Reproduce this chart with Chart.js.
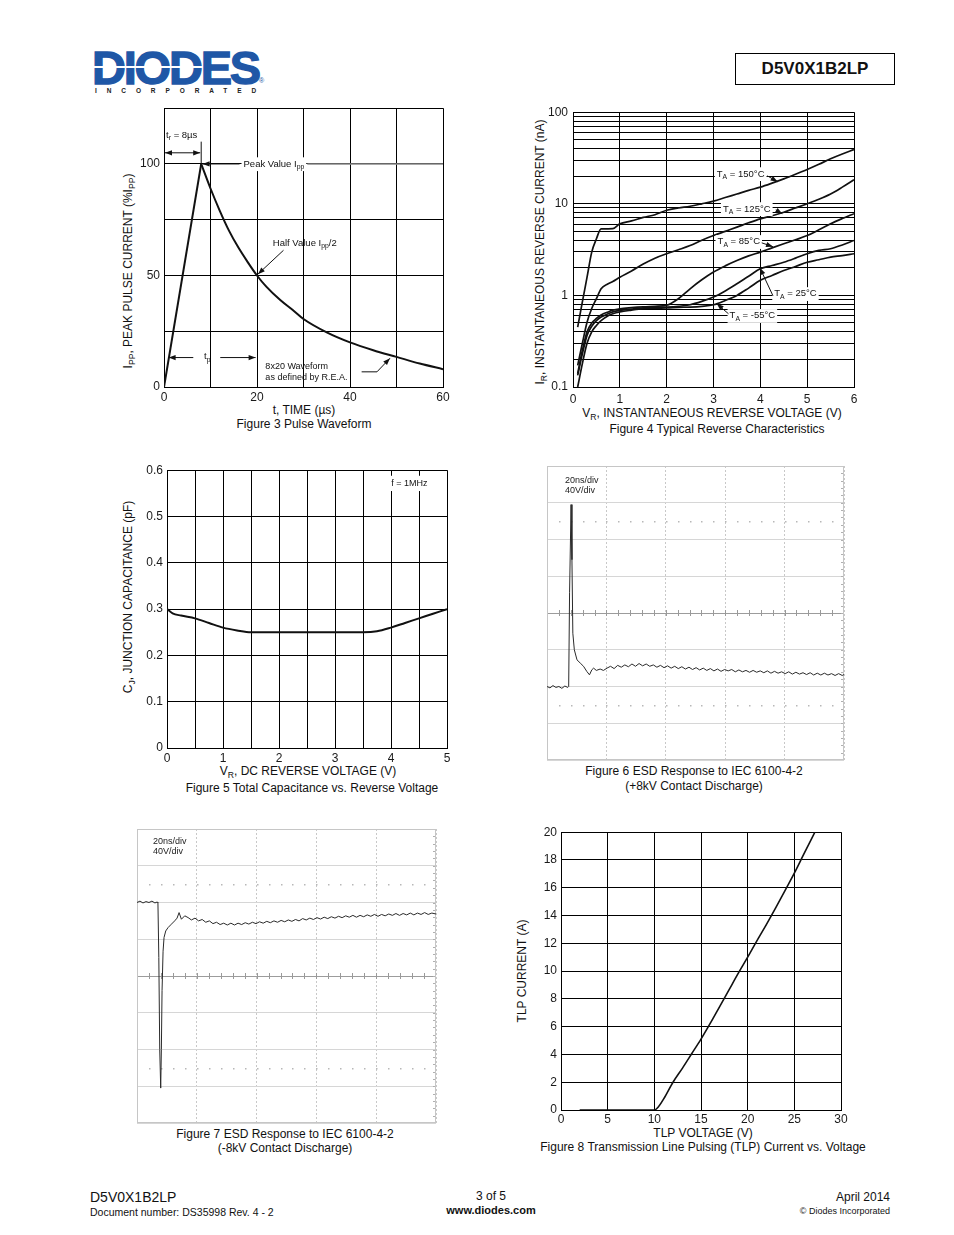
<!DOCTYPE html>
<html><head><meta charset="utf-8">
<script src="https://cdn.jsdelivr.net/npm/chart.js@4.4.0/dist/chart.umd.min.js"></script>
<style>
body{margin:0;background:#fff;font-family:"Liberation Sans",Arial,sans-serif;color:#111;}
#page{position:relative;width:954px;height:1235px;overflow:hidden;background:#fff;}
.t{position:absolute;white-space:nowrap;font-size:12px;line-height:12px;}
.c{transform:translateX(-50%);}
.rot{transform:translate(-50%,-50%) rotate(-90deg);}
.rt{transform:translateX(-100%);}
canvas{position:absolute;}
sub{font-size:0.72em;vertical-align:-0.3em;line-height:0;}
</style></head><body><div id="page">

<!-- logo -->
<div class="t" style="left:92px;top:44px;font:bold 47px 'Liberation Sans',Arial,sans-serif;line-height:47px;color:#1f57a6;letter-spacing:-2.2px;-webkit-text-stroke:1.3px #1f57a6;">DIODES</div>
<div style="position:absolute;left:93px;top:66px;width:110px;height:2px;background:#fff;"></div>
<div class="t" style="left:259px;top:77px;font-size:7px;line-height:7px;color:#1f57a6;">®</div>
<div class="t" style="left:95px;top:87px;font:bold 6.5px 'Liberation Sans',Arial,sans-serif;line-height:7px;letter-spacing:9.9px;color:#222;">INCORPORATED</div>
<div style="position:absolute;left:735px;top:53px;width:160px;height:32px;box-sizing:border-box;border:1.5px solid #000;font:bold 17px 'Liberation Sans',Arial,sans-serif;line-height:29px;text-align:center;">D5V0X1B2LP</div>

<!-- Figure 3 texts -->
<div class="t rot" style="left:128px;top:271px;">I<sub>PP</sub>, PEAK PULSE CURRENT (%I<sub>PP</sub>)</div>
<div class="t c" style="left:304px;top:404px;">t, TIME (µs)</div>
<div class="t c" style="left:304px;top:418px;">Figure 3 Pulse Waveform</div>

<!-- Figure 4 texts -->
<div class="t rot" style="left:540px;top:252px;">I<sub>R</sub>, INSTANTANEOUS REVERSE CURRENT (nA)</div>
<div class="t c" style="left:712px;top:407px;">V<sub>R</sub>, INSTANTANEOUS REVERSE VOLTAGE (V)</div>
<div class="t c" style="left:717px;top:423px;">Figure 4 Typical Reverse Characteristics</div>

<!-- Figure 5 texts -->
<div class="t rot" style="left:128px;top:597px;">C<sub>J</sub>, JUNCTION CAPACITANCE (pF)</div>
<div class="t c" style="left:308px;top:765px;">V<sub>R</sub>, DC REVERSE VOLTAGE (V)</div>
<div class="t c" style="left:312px;top:782px;">Figure 5 Total Capacitance vs. Reverse Voltage</div>

<!-- Figure 6 texts -->
<div class="t c" style="left:694px;top:765px;">Figure 6 ESD Response to IEC 6100-4-2</div>
<div class="t c" style="left:694px;top:780px;">(+8kV Contact Discharge)</div>

<!-- Figure 7 texts -->
<div class="t c" style="left:285px;top:1128px;">Figure 7 ESD Response to IEC 6100-4-2</div>
<div class="t c" style="left:285px;top:1142px;">(-8kV Contact Discharge)</div>

<!-- Figure 8 texts -->
<div class="t rot" style="left:522px;top:971px;">TLP CURRENT (A)</div>
<div class="t c" style="left:703px;top:1127px;">TLP VOLTAGE (V)</div>
<div class="t c" style="left:703px;top:1141px;">Figure 8 Transmission Line Pulsing (TLP) Current vs. Voltage</div>

<!-- footer -->
<div class="t" style="left:90px;top:1190px;font-size:14px;line-height:14px;">D5V0X1B2LP</div>
<div class="t" style="left:90px;top:1207px;font-size:10.5px;line-height:11px;">Document number: DS35998 Rev. 4 - 2</div>
<div class="t c" style="left:491px;top:1190px;font-size:12px;">3 of 5</div>
<div class="t c" style="left:491px;top:1205px;font-size:11px;line-height:11px;font-weight:bold;">www.diodes.com</div>
<div class="t rt" style="left:890px;top:1191px;font-size:12px;">April 2014</div>
<div class="t rt" style="left:890px;top:1207px;font-size:9px;line-height:9px;">© Diodes Incorporated</div>
</div>
<script>
// ================= DATA =================
// Figure 3 – Pulse waveform
const fig3RiseTime = [0, 8];
const fig3RiseCurrent = [0, 100];
const fig3DecayTime = [8, 10, 12, 14, 16, 18, 20, 22, 25, 28, 30, 35, 40, 45, 50, 55, 60];
const fig3DecayCurrent = [100, 89, 79, 70, 62.5, 56, 50, 45, 39, 34, 30.5, 24.5, 20, 16.5, 13.5, 10.5, 8];
const fig3XLabels = [0, 20, 40, 60];
const fig3YLabels = [0, 50, 100];

// Figure 4 – Typical reverse characteristics (nA)
const fig4Voltage = [0.1,0.2,0.3,0.4,0.5,0.6,0.75,0.85,1,1.25,1.5,1.75,2,2.25,2.5,2.75,3,3.25,3.5,3.75,4,4.25,4.5,4.75,5,5.25,5.5,5.75,6];
const fig4T150 = [0.45,0.85,1.58,2.97,4.15,5.33,5.33,5.35,6.05,6.5,7.1,7.6,8.5,9.0,9.4,10.0,10.7,11.7,12.8,14,15.2,16.8,18.7,21,23.7,27,31,35,39];
const fig4T125 = [0.172,0.3,0.51,0.72,0.92,1.18,1.34,1.42,1.58,1.85,2.2,2.55,2.85,3.15,3.5,4.0,4.5,5.0,5.56,6.2,6.85,7.4,8.1,9.0,10,11.2,12.8,15.2,18.3];
const fig4T85 = [0.14,0.25,0.4,0.5,0.56,0.61,0.66,0.69,0.715,0.735,0.75,0.76,0.78,0.92,1.18,1.48,1.8,2.1,2.4,2.7,2.97,3.3,3.66,4.05,4.5,5.2,6.05,6.9,7.8];
const fig4T25 = [0.134,0.23,0.366,0.46,0.53,0.58,0.63,0.66,0.686,0.71,0.73,0.74,0.746,0.76,0.79,0.86,0.96,1.12,1.34,1.62,1.95,2.12,2.3,2.55,2.85,3.1,3.23,3.55,3.98];
const fig4Tm55 = [0.1,0.18,0.3,0.4,0.47,0.53,0.6,0.63,0.66,0.69,0.715,0.725,0.73,0.74,0.746,0.76,0.79,0.88,1.0,1.2,1.46,1.65,1.87,2.07,2.3,2.45,2.62,2.72,2.85];
const fig4YGrid = [0.1,0.2,0.3,0.4,0.5,0.6,0.7,0.8,0.9,1,2,3,4,5,6,7,8,9,10,20,30,40,50,60,70,80,90,100];
const fig4YLabels = [0.1, 1, 10, 100];

// Figure 5 – Capacitance
const fig5Voltage = [0,0.1,0.25,0.5,0.75,1,1.25,1.5,2,2.5,3,3.5,3.75,4,4.25,4.5,4.75,5];
const fig5Cap = [0.3,0.291,0.286,0.28,0.27,0.26,0.254,0.25,0.25,0.25,0.25,0.25,0.252,0.26,0.27,0.28,0.29,0.3];

// Figure 6 – ESD +8kV scope trace [ns, V]
const fig6Trace = [[0,-80],[1,-81.5],[2,-79],[3,-81],[4,-80],[5,-82],[6,-79.5],[7,-81],[7.3,-80],[7.6,22],[8.1,118],[8.4,58],[8.7,-22],[9.2,-40],[10.1,-51],[11.2,-54.5],[12.3,-58],[13.4,-63.6],[14.3,-67.3],[15.1,-61.8],[15.7,-60],[16.6,-62.5],[17.9,-61],[19,-62.5],[20.2,-60],[21.4,-58],[22.6,-60.5],[23.8,-57],[25,-59],[26.2,-56.5],[27.4,-58.5],[28.6,-55.5],[29.8,-58],[31,-55],[32.2,-57.5],[33.4,-55.5],[34.6,-58],[35.8,-56.5],[37,-59],[38.2,-57],[39.4,-59.5],[40.6,-57.5],[41.8,-60],[43,-58],[44.2,-60.5],[45.4,-58.5],[46.6,-61],[47.8,-59],[49,-61.5],[50.2,-59.5],[51.4,-62],[52.6,-60],[53.8,-62.5],[55,-60.5],[56.2,-63],[57.4,-61],[58.6,-63.5],[59.8,-61.5],[61,-63],[62.2,-61.5],[63.4,-64],[64.6,-62],[65.8,-64],[67,-62.5],[68.2,-64.5],[69.4,-62.5],[70.6,-64.5],[71.8,-63],[73,-65],[74.2,-63],[75.4,-65.5],[76.6,-63.5],[77.8,-65.5],[79,-64],[80.2,-66],[81.4,-64],[82.6,-66.5],[83.8,-64.5],[85,-66.5],[86.2,-65],[87.4,-67],[88.6,-65],[89.8,-67.5],[91,-65.5],[92.2,-67.5],[93.4,-65.5],[94.6,-67.5],[95.8,-66],[97,-68],[98.2,-66],[99.4,-68],[100,-67]];

// Figure 7 – ESD -8kV scope trace [ns, V]
const fig7Trace = [[0,80],[1,81.5],[2,79.5],[3,81],[4,80],[5,81.5],[6,79.5],[6.7,80.5],[7,80],[7.3,20],[7.6,-80],[7.93,-122],[8.15,-80],[8.38,-16],[8.72,27],[9.05,42],[9.61,49],[10.39,52.7],[11.5,56.4],[12.6,60],[13.4,63],[14.07,69],[14.85,61.8],[15.97,65.5],[17.08,63.6],[18.2,61],[19.4,63],[20.6,60],[21.8,61.5],[23,58.5],[24.2,60],[25.4,57],[26.6,58.5],[27.8,56],[29,57.5],[30.2,55.5],[31.4,57.5],[32.6,55.5],[33.8,57.5],[35,56],[36.2,58],[37.4,56.5],[38.6,58.5],[39.8,57],[41,59],[42.2,57.5],[43.4,59.5],[44.6,58],[45.8,60],[47,58.5],[48.2,60.5],[49.4,59],[50.6,61],[51.8,59.5],[53,61.5],[54.2,60],[55.4,62.5],[56.6,61],[57.8,63],[59,61.5],[60.2,63.5],[61.4,62],[62.6,64],[63.8,62.5],[65,64.5],[66.2,63],[67.4,65],[68.6,63.5],[69.8,65.5],[71,64],[72.2,66],[73.4,64],[74.6,66],[75.8,64.5],[77,66.5],[78.2,65],[79.4,67],[80.6,65],[81.8,67],[83,65.5],[84.2,67.5],[85.4,66],[86.6,68],[87.8,66],[89,68],[90.2,66.5],[91.4,68.5],[92.6,66.5],[93.8,68.5],[95,67],[96.2,69],[97.4,67],[98.6,68.5],[100,67.5]];

// Figure 8 – TLP
const fig8Voltage = [2,10,10.4,11,12,13,14,15,16,17,18,19,20,21,22,23,24,25,26,27.2];
const fig8Current = [0,0,0.2,0.8,2,3.0,4.05,5.1,6.25,7.45,8.65,9.85,11.0,12.2,13.35,14.55,15.8,17.05,18.4,20];

// ================= HELPERS =================
const FONT = "'Liberation Sans', Arial, sans-serif";
Chart.defaults.font.family = FONT;
Chart.defaults.font.size = 12;
Chart.defaults.color = '#1a1a1a';
const page = document.getElementById('page');
const pts = (xs, ys) => xs.map((x, i) => ({x, y: ys[i]}));

function makeChart(area, pad, config) {
  const cv = document.createElement('canvas');
  const W = area.r - area.l + pad.l + pad.r, H = area.b - area.t + pad.t + pad.b;
  cv.width = W; cv.height = H;
  cv.style.left = (area.l - pad.l) + 'px'; cv.style.top = (area.t - pad.t) + 'px';
  cv.style.width = W + 'px'; cv.style.height = H + 'px';
  page.appendChild(cv);
  const o = config.options;
  o.responsive = false; o.maintainAspectRatio = false; o.animation = false;
  o.layout = {padding: {left: 0, top: pad.t, right: pad.r, bottom: 0}, autoPadding: false};
  o.plugins = Object.assign({legend: {display: false}, tooltip: {enabled: false}}, o.plugins || {});
  o.scales.x.afterFit = s => { s.height = pad.b; };
  o.scales.y.afterFit = s => { s.width = pad.l; };
  return new Chart(cv.getContext('2d'), config);
}

function axis(extra, tickExtra) {
  return Object.assign({
    type: 'linear',
    ticks: Object.assign({autoSkip: false, maxRotation: 0, minRotation: 0, padding: 3, color: '#1a1a1a', font: {size: 12}}, tickExtra || {}),
    grid: {color: '#000', lineWidth: 1, drawTicks: false},
    border: {display: true, color: '#000', width: 1}
  }, extra);
}

function arrowHead(ctx, x0, y0, x1, y1, len, w) {
  len = len || 7; w = w || 2.6;
  const a = Math.atan2(y1 - y0, x1 - x0), c = Math.cos(a), s = Math.sin(a);
  ctx.beginPath();
  ctx.moveTo(x1, y1);
  ctx.lineTo(x1 - len * c + w * s, y1 - len * s - w * c);
  ctx.lineTo(x1 - len * c - w * s, y1 - len * s + w * c);
  ctx.closePath(); ctx.fill();
}
function polyArrow(ctx, p, headEnd, headStart) {
  ctx.beginPath(); ctx.moveTo(p[0][0], p[0][1]);
  for (let i = 1; i < p.length; i++) ctx.lineTo(p[i][0], p[i][1]);
  ctx.stroke();
  const n = p.length;
  if (headEnd) arrowHead(ctx, p[n-2][0], p[n-2][1], p[n-1][0], p[n-1][1]);
  if (headStart) arrowHead(ctx, p[1][0], p[1][1], p[0][0], p[0][1]);
}
function rich(ctx, parts, x, y, size, align, box) {
  const sub = size * 0.72;
  let w = 0;
  parts.forEach(([s, isSub]) => { ctx.font = (isSub ? sub : size) + 'px ' + FONT; w += ctx.measureText(s).width; });
  let cx = align === 'center' ? x - w / 2 : (align === 'right' ? x - w : x);
  const x0 = cx;
  if (box) { ctx.fillStyle = '#fff'; ctx.fillRect(x0 - 2, y - size * 0.7, w + 4, size * 1.45); }
  ctx.fillStyle = '#111'; ctx.textBaseline = 'middle'; ctx.textAlign = 'left';
  parts.forEach(([s, isSub]) => {
    ctx.font = (isSub ? sub : size) + 'px ' + FONT;
    ctx.fillText(s, cx, isSub ? y + size * 0.32 : y);
    cx += ctx.measureText(s).width;
  });
  return {x0, x1: x0 + w};
}

// ================= FIGURE 3 =================
const fig3Ann = {
  id: 'fig3Ann',
  afterDatasetsDraw(chart) {
    const ctx = chart.ctx, X = v => chart.scales.x.getPixelForValue(v), Y = v => chart.scales.y.getPixelForValue(v);
    ctx.save(); ctx.strokeStyle = '#111'; ctx.fillStyle = '#111'; ctx.lineWidth = 1;
    rich(ctx, [['t', 0], ['r', 1], [' = 8µs', 0]], X(0.45), Y(113), 9.5, 'left');
    polyArrow(ctx, [[X(0) + 1, Y(105)], [X(8) - 1, Y(105)]], true, true);
    ctx.beginPath(); ctx.moveTo(X(8), Y(100)); ctx.lineTo(X(8), Y(110)); ctx.stroke();
    const pk = rich(ctx, [['Peak Value I', 0], ['pp', 1]], X(17.1), Y(100), 9.5, 'left', true);
    ctx.strokeStyle = '#111';
    polyArrow(ctx, [[pk.x0 - 4, Y(100)], [X(8.3), Y(100)]], true);
    ctx.strokeStyle = '#8a8a8a'; ctx.lineWidth = 1.6;
    ctx.beginPath(); ctx.moveTo(pk.x1 + 3, Y(100)); ctx.lineTo(X(60), Y(100)); ctx.stroke();
    ctx.strokeStyle = '#111'; ctx.lineWidth = 1;
    rich(ctx, [['Half Value I', 0], ['pp', 1], ['/2', 0]], X(23.4), Y(64.5), 9.5, 'left');
    ctx.fillStyle = '#111';
    polyArrow(ctx, [[X(25.7), Y(61.3)], [X(20.2), Y(50.6)]], true);
    rich(ctx, [['t', 0], ['p', 1]], X(9.3), Y(13.6), 9.5, 'center');
    ctx.fillStyle = '#111';
    polyArrow(ctx, [[X(1), Y(13.2)], [X(6.3), Y(13.2)]], false, true);
    polyArrow(ctx, [[X(12.1), Y(13.2)], [X(19.7), Y(13.2)]], true);
    rich(ctx, [['8x20 Waveform', 0]], X(21.8), Y(9.4), 9, 'left');
    rich(ctx, [['as defined by R.E.A.', 0]], X(21.8), Y(4.2), 9, 'left');
    ctx.fillStyle = '#111';
    polyArrow(ctx, [[X(42.5), Y(6.8)], [X(45.8), Y(6.8)], [X(48.6), Y(12.9)]], true);
    ctx.restore();
  }
};
makeChart({l: 164, t: 107, r: 443, b: 387}, {l: 50, t: 10, r: 15, b: 25}, {
  type: 'line',
  data: {datasets: [
    {data: pts(fig3RiseTime, fig3RiseCurrent), borderColor: '#111', borderWidth: 2, pointRadius: 0, tension: 0},
    {data: pts(fig3DecayTime, fig3DecayCurrent), borderColor: '#111', borderWidth: 2, pointRadius: 0, cubicInterpolationMode: 'monotone'}
  ]},
  options: {scales: {
    x: axis({min: 0, max: 60}, {stepSize: 10, callback: v => fig3XLabels.includes(v) ? String(v) : ''}),
    y: axis({min: 0, max: 125}, {stepSize: 25, padding: 4, callback: v => fig3YLabels.includes(v) ? String(v) : ''})
  }},
  plugins: [fig3Ann]
});

// ================= FIGURE 4 =================
const fig4Labels = [
  {t: '150°C', tx: 3.58, ty: 21.2, a: [[4.15, 20.2], [4.37, 17.4]]},
  {t: '125°C', tx: 3.71, ty: 8.8, a: [[4.33, 8.6], [4.47, 7.8]]},
  {t: '85°C', tx: 3.54, ty: 3.85, a: [[4.03, 3.75], [4.27, 3.4]]},
  {t: '25°C', tx: 4.75, ty: 1.04, a: [[4.27, 0.99], [3.99, 2.0]]},
  {t: '-55°C', tx: 3.83, ty: 0.6, a: [[3.32, 0.63], [3.07, 0.81]]}
];
const fig4Ann = {
  id: 'fig4Ann',
  afterDatasetsDraw(chart) {
    const ctx = chart.ctx, X = v => chart.scales.x.getPixelForValue(v), Y = v => chart.scales.y.getPixelForValue(v);
    ctx.save(); ctx.lineWidth = 1; ctx.strokeStyle = '#111';
    fig4Labels.forEach(L => {
      rich(ctx, [['T', 0], ['A', 1], [' = ' + L.t, 0]], X(L.tx), Y(L.ty), 9.5, 'center', true);
      ctx.fillStyle = '#111';
      polyArrow(ctx, L.a.map(p => [X(p[0]), Y(p[1])]), true);
    });
    ctx.restore();
  }
};
const curve4 = d => ({data: pts(fig4Voltage, d), borderColor: '#111', borderWidth: 1.7, pointRadius: 0, cubicInterpolationMode: 'monotone'});
makeChart({l: 573, t: 110, r: 854, b: 387}, {l: 50, t: 10, r: 15, b: 25}, {
  type: 'line',
  data: {datasets: [curve4(fig4T150), curve4(fig4T125), curve4(fig4T85), curve4(fig4T25), curve4(fig4Tm55)]},
  options: {scales: {
    x: axis({min: 0, max: 6}, {stepSize: 1, padding: 5}),
    y: axis({type: 'logarithmic', min: 0.1, max: 100,
      afterBuildTicks: s => { s.ticks = fig4YGrid.map(v => ({value: v})); }},
      {padding: 5, callback: v => fig4YLabels.includes(v) ? String(v) : ''})
  }},
  plugins: [fig4Ann]
});

// ================= FIGURE 5 =================
const fig5Ann = {
  id: 'fig5Ann',
  afterDatasetsDraw(chart) {
    const ctx = chart.ctx, X = v => chart.scales.x.getPixelForValue(v), Y = v => chart.scales.y.getPixelForValue(v);
    ctx.save();
    ctx.fillStyle = '#fff';
    ctx.fillRect(X(3.95), Y(0.588), X(4.72) - X(3.95), Y(0.555) - Y(0.588));
    rich(ctx, [['f = 1MHz', 0]], X(4.33), Y(0.572), 9, 'center');
    ctx.restore();
  }
};
makeChart({l: 167, t: 469, r: 447, b: 748}, {l: 50, t: 10, r: 15, b: 25}, {
  type: 'line',
  data: {datasets: [{data: pts(fig5Voltage, fig5Cap), borderColor: '#111', borderWidth: 2, pointRadius: 0, cubicInterpolationMode: 'monotone'}]},
  options: {scales: {
    x: axis({min: 0, max: 5}, {stepSize: 0.5, callback: v => Number.isInteger(v) ? String(v) : ''}),
    y: axis({min: 0, max: 0.6}, {stepSize: 0.1, padding: 4, callback: v => v === 0 ? '0' : Number(v).toFixed(1)})
  }},
  plugins: [fig5Ann]
});

// ================= SCOPE FIGURES 6 & 7 =================
function scopePlugin(id) {
  return {
    id,
    beforeDatasetsDraw(chart) {
      const ctx = chart.ctx, a = chart.chartArea, X = v => chart.scales.x.getPixelForValue(v), Y = v => chart.scales.y.getPixelForValue(v);
      ctx.save();
      ctx.strokeStyle = '#9a9a9a'; ctx.lineWidth = 1;
      for (let t = 4; t < 100; t += 4) {
        const x = Math.round(X(t)) + 0.5;
        ctx.beginPath(); ctx.moveTo(x, Y(0) - 3); ctx.lineTo(x, Y(0) + 3); ctx.stroke();
      }
      ctx.strokeStyle = '#b0b0b0';
      for (let v = -152; v < 160; v += 8) {
        const y = Math.round(Y(v)) + 0.5;
        ctx.beginPath(); ctx.moveTo(a.right - 3, y); ctx.lineTo(a.right, y); ctx.stroke();
      }
      ctx.fillStyle = '#b8b8b8';
      [100, -100].forEach(v => {
        for (let t = 4; t < 100; t += 4) ctx.fillRect(Math.round(X(t)), Math.round(Y(v)), 1.5, 1.5);
      });
      ctx.strokeStyle = '#c6c6c6'; ctx.lineWidth = 1;
      ctx.strokeRect(a.left + 0.5, a.top + 0.5, a.right - a.left - 1, a.bottom - a.top - 1);
      ctx.restore();
    }
  };
}
function scopeChart(area, trace, id) {
  return makeChart(area, {l: 10, t: 10, r: 10, b: 10}, {
    type: 'line',
    data: {datasets: [{data: trace.map(p => ({x: p[0], y: p[1]})), borderColor: '#2a2a2a', borderWidth: 1, pointRadius: 0, tension: 0}]},
    options: {scales: {
      x: {type: 'linear', min: 0, max: 100, ticks: {stepSize: 20, display: false},
          grid: {color: '#c8c8c8', lineWidth: 1, drawTicks: false}, border: {display: false, dash: [2, 2]}},
      y: {type: 'linear', min: -160, max: 160, ticks: {stepSize: 40, display: false},
          grid: {color: c => c.tick && c.tick.value === 0 ? '#9c9c9c' : '#d6d6d6', lineWidth: 1, drawTicks: false}, border: {display: false}}
    }},
    plugins: [scopePlugin(id)]
  });
}
scopeChart({l: 547, t: 466, r: 844, b: 760}, fig6Trace, 'scope6');
scopeChart({l: 137, t: 829, r: 436, b: 1123}, fig7Trace, 'scope7');
</script>
<div class="t" style="position:absolute;left:565px;top:475px;font-size:9px;line-height:10px;color:#222;">20ns/div<br>40V/div</div>
<div class="t" style="position:absolute;left:153px;top:836px;font-size:9px;line-height:10px;color:#222;">20ns/div<br>40V/div</div>
<script>
// ================= FIGURE 8 =================
makeChart({l: 561, t: 831, r: 841, b: 1110}, {l: 50, t: 10, r: 15, b: 25}, {
  type: 'line',
  data: {datasets: [{data: pts(fig8Voltage, fig8Current), borderColor: '#111', borderWidth: 1.6, pointRadius: 0, cubicInterpolationMode: 'monotone'}]},
  options: {scales: {
    x: axis({min: 0, max: 30}, {stepSize: 5, padding: 2}),
    y: axis({min: 0, max: 20}, {stepSize: 2, padding: 4})
  }}
});
</script>
</body></html>
